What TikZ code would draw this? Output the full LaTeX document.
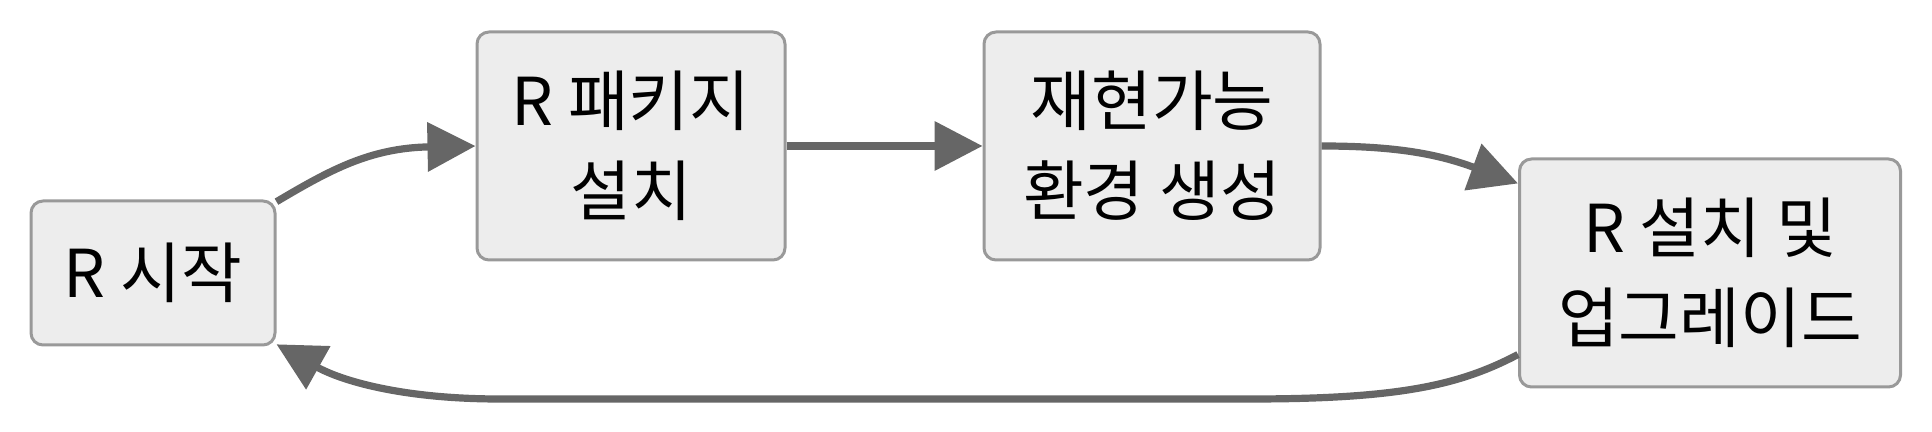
\documentclass[tikz,border=0pt]{standalone}
\usepackage{fontspec}
\setmainfont{Noto Sans CJK KR}
\usetikzlibrary{arrows.meta}
\begin{document}
\begin{tikzpicture}[x=0.5pt,y=-0.5pt,
  box/.style={draw=black!40, line width=1.5pt, fill=black!7, rounded corners=6pt,
    align=center, font=\fontsize{33pt}{45pt}\selectfont, inner sep=0pt},
  conn/.style={draw=black!60, line width=3.6pt, -{Triangle[length=24pt,width=24pt]}}]
\useasboundingbox (0,0) rectangle (1932,432);
\node[box, minimum width=122pt, minimum height=72pt] (start) at (153,273) {R 시작};
\node[box, minimum width=154pt, minimum height=114pt] (pkg) at (631,146) {R 패키지\\설치};
\node[box, minimum width=168pt, minimum height=114pt] (env) at (1152,146) {재현가능\\환경 생성};
\node[box, minimum width=190.5pt, minimum height=114pt] (upg) at (1710,273) {R 설치 및\\업그레이드};
\draw[conn] (start.30) .. controls (330,170) and (370,148) .. (pkg.west);
\draw[conn] (pkg.east) -- (env.west);
\draw[conn] (env.east) .. controls (1400,146) and (1440,155) .. (upg.155);
\coordinate (b1) at (1250,399);
\coordinate (b2) at (500,399);
\draw[conn] (upg.203) .. controls (1460,385) and (1400,399) .. (b1) -- (b2)
  .. controls (400,399) and (340,380) .. (start.-30);
\end{tikzpicture}
\end{document}
